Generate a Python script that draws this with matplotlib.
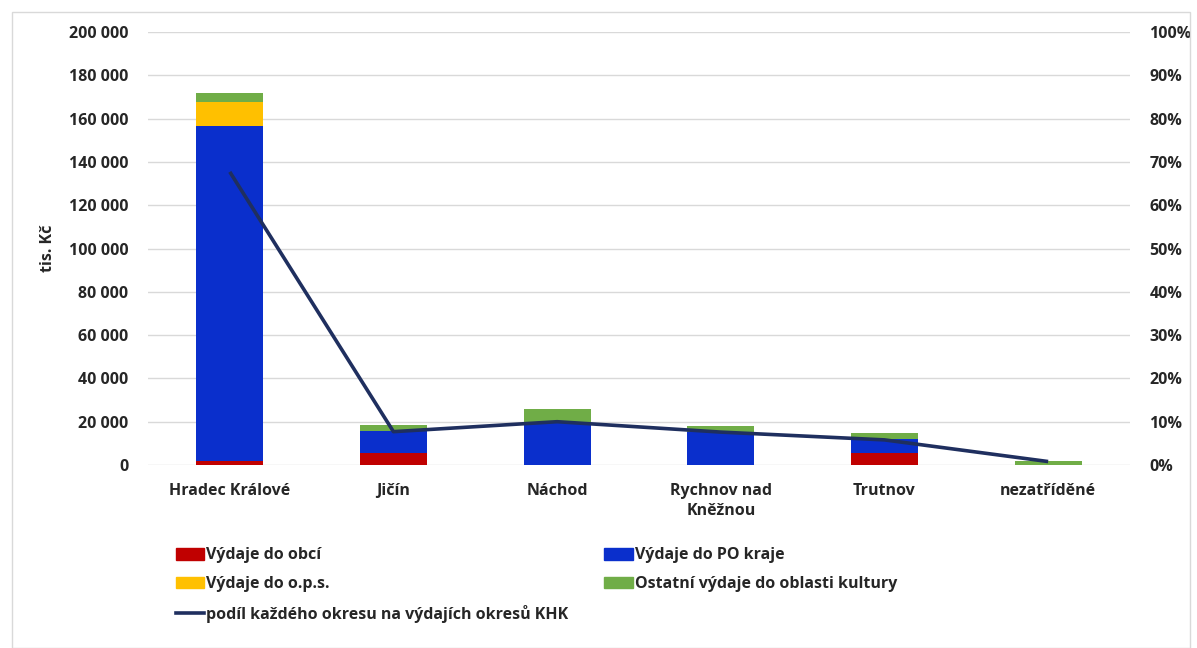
import matplotlib
matplotlib.use("Agg")
import matplotlib.pyplot as plt
from matplotlib.patches import Rectangle, Patch
from matplotlib.lines import Line2D
from matplotlib.ticker import FuncFormatter, PercentFormatter

plt.rcParams['font.family'] = ['Open Sans', 'DejaVu Sans']
plt.rcParams['font.weight'] = 'bold'

categories = ["Hradec Králové", "Jičín", "Náchod", "Rychnov nad\nKněžnou", "Trutnov", "nezatříděné"]
vydaje_obci = [2000, 5400, 0, 0, 5400, 0]
vydaje_po = [154500, 10300, 19200, 15400, 6500, 0]
vydaje_ops = [11200, 0, 0, 0, 0, 0]
ostatni = [4000, 2800, 6500, 2700, 3000, 2000]
podil = [0.677, 0.077, 0.100, 0.076, 0.058, 0.008]

series_labels = ["Výdaje do obcí", "Výdaje do PO kraje", "Výdaje do o.p.s.",
                 "Ostatní výdaje do oblasti kultury"]
line_label = "podíl každého okresu na výdajích okresů KHK"

c_red = "#C00000"
c_blue = "#0A2FCC"
c_yellow = "#FFC000"
c_green = "#70AD47"
c_line = "#1F2F5F"
c_text = "#262626"
fs = 11.5

fig = plt.figure(figsize=(11.97, 6.48), dpi=100)
ax = fig.add_axes([0.1236, 0.2824, 0.8204, 0.6682])
ax2 = ax.twinx()

x = list(range(len(categories)))
w = 0.41
b1 = vydaje_obci
b2 = [a + b for a, b in zip(b1, vydaje_po)]
b3 = [a + b for a, b in zip(b2, vydaje_ops)]
ax.bar(x, vydaje_obci, w, color=c_red, zorder=3)
ax.bar(x, vydaje_po, w, bottom=b1, color=c_blue, zorder=3)
ax.bar(x, vydaje_ops, w, bottom=b2, color=c_yellow, zorder=3)
ax.bar(x, ostatni, w, bottom=b3, color=c_green, zorder=3)

ax2.plot(x, podil, color=c_line, lw=2.6, zorder=4, solid_capstyle='butt')

ax.set_xlim(-0.5, len(categories) - 0.5)
ax.set_ylim(0, 200000)
ax.set_yticks(range(0, 200001, 20000))
ax.yaxis.set_major_formatter(FuncFormatter(lambda v, p: f"{int(v):,}".replace(",", " ")))
ax2.set_ylim(0, 1)
ax2.set_yticks([i / 10 for i in range(11)])
ax2.yaxis.set_major_formatter(PercentFormatter(1.0, decimals=0))

ax.grid(axis='y', color='#D9D9D9', lw=1.0, zorder=0)
ax.set_axisbelow(True)
for a in (ax, ax2):
    for s in a.spines.values():
        s.set_visible(False)
    a.tick_params(length=0, labelsize=fs, colors=c_text)
ax.tick_params(axis='y', pad=14)
ax2.tick_params(axis='y', pad=14)
ax.set_xticks(x)
ax.set_xticklabels(categories, fontsize=fs, fontweight='bold', linespacing=1.3)
ax.tick_params(axis='x', pad=13)
ax.set_ylabel("tis. Kč", fontsize=fs, fontweight='bold', color=c_text, labelpad=9.5)

handles = [Patch(color=c_red), Patch(color=c_yellow), Line2D([], [], color=c_line, lw=2.6),
           Patch(color=c_blue), Patch(color=c_green)]
labels = [series_labels[0], series_labels[2], line_label, series_labels[1], series_labels[3]]
fig.legend(handles, labels, ncol=2, loc='upper left', bbox_to_anchor=(0.140, 0.1676),
           frameon=False, fontsize=fs, handlelength=1.8, handleheight=0.75, handletextpad=0.12,
           columnspacing=2.25, labelspacing=0.8, borderpad=0, labelcolor=c_text)

fig.patches.append(Rectangle((12 / 1197, 0.0), 1178 / 1197, 1 - 12 / 648, transform=fig.transFigure,
                             fill=False, edgecolor='#D9D9D9', lw=1.0))

fig.savefig("out.png", dpi=100)
